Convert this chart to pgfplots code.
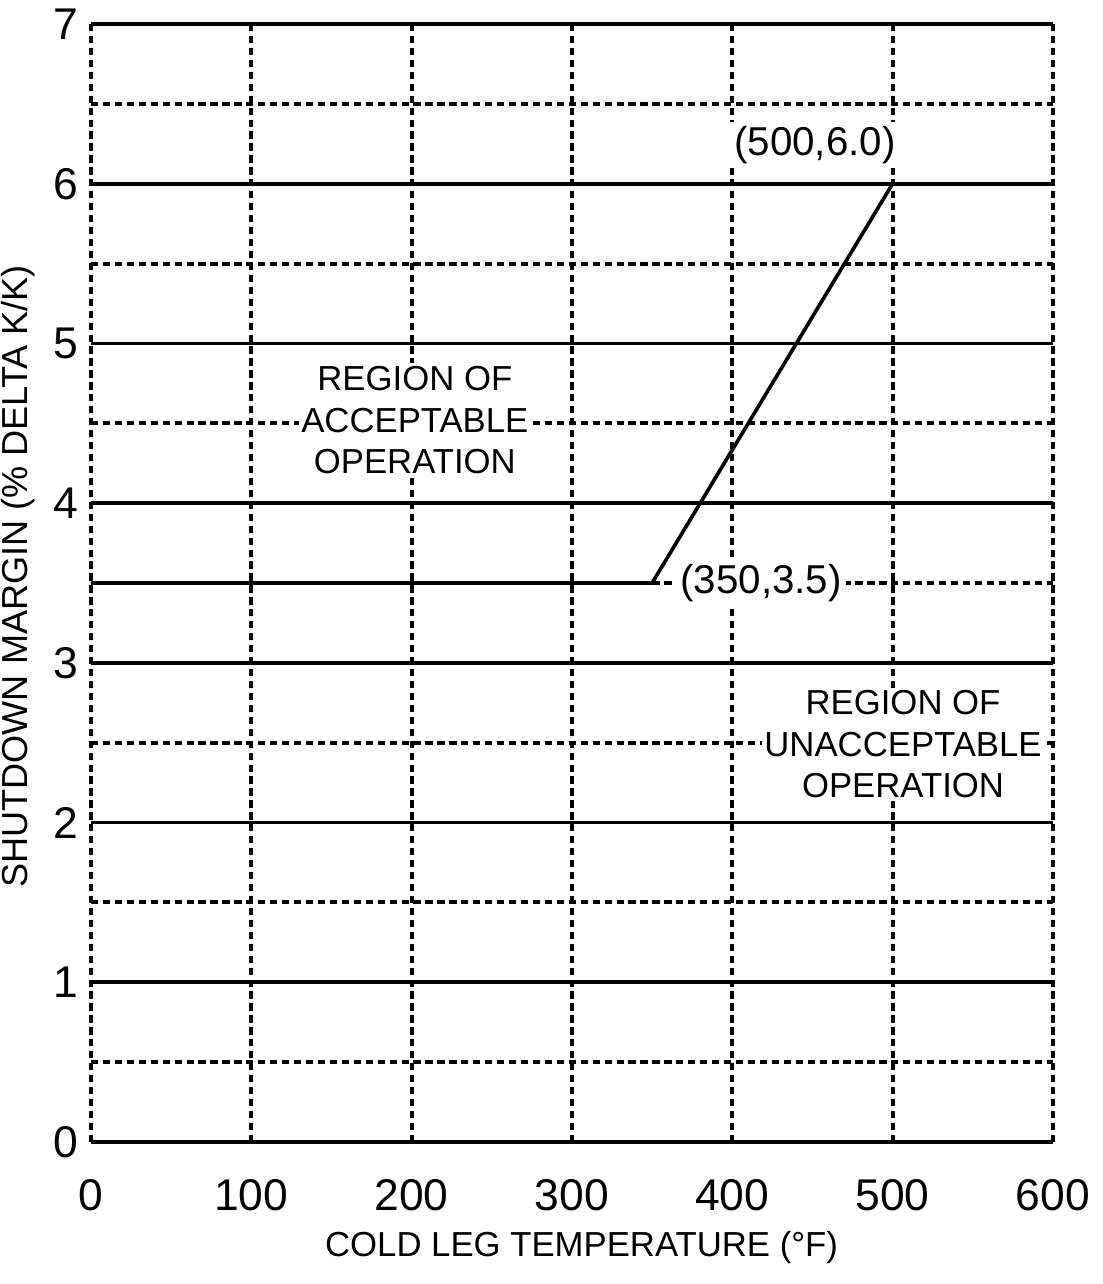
\documentclass[border=0pt]{standalone}
\usepackage{fontspec}
\setmainfont{Liberation Sans}
\usepackage{pgfplots}
\pgfplotsset{compat=1.18}
\begin{document}
\begin{tikzpicture}[x=1pt,y=1pt]
\begin{axis}[
  scale only axis,
  width=346.3pt, height=402.5pt,
  xmin=0, xmax=600, ymin=0, ymax=7,
  xtick={0,100,...,600},
  ytick={0,1,...,7},
  minor ytick={0.5,1.5,...,6.5},
  major tick length=0pt, minor tick length=0pt,
  axis line style={draw=none},
  xmajorgrids, ymajorgrids, yminorgrids,
  major x grid style={black, line width=1.4pt, dash pattern=on 2.6pt off 1.7pt},
  major y grid style={black, line width=1.3pt, solid},
  minor y grid style={black, line width=1.4pt, dash pattern=on 2.6pt off 1.7pt},
  /pgf/number format/assume math mode=true,
  ticklabel style={font=\fontsize{16}{18}\selectfont},
  xticklabel style={yshift=-10pt},
  yticklabel style={xshift=-1pt},
  xlabel={COLD LEG TEMPERATURE (\textdegree F)},
  ylabel={SHUTDOWN MARGIN (\% DELTA K/K)},
  every axis x label/.style={at={(axis description cs:0.51,-0.094)}, anchor=center, font=\fontsize{12.5}{14}\selectfont},
  every axis y label/.style={at={(axis description cs:-0.076,0.506)}, rotate=90, anchor=center, font=\fontsize{13}{15}\selectfont},
  clip=false,
]
\addplot[black, line width=1.3pt, solid] coordinates {(0,3.5) (350,3.5) (500,6.0)};
\node[font=\fontsize{12.5}{15}\selectfont, align=center, fill=white, inner sep=1pt] at (axis cs:202,4.52) {REGION OF\\ACCEPTABLE\\OPERATION};
\node[font=\fontsize{12.5}{15}\selectfont, align=center, fill=white, inner sep=1pt] at (axis cs:506.5,2.49) {REGION OF\\UNACCEPTABLE\\OPERATION};
\node[font=\fontsize{14.5}{16}\selectfont, fill=white, inner sep=1.5pt] at (axis cs:451.6,6.24) {(500,6.0)};
\node[font=\fontsize{14.5}{16}\selectfont, fill=white, inner sep=1.5pt] at (axis cs:418,3.5) {(350,3.5)};
\end{axis}
\path (current axis.south west) ++(-91*0.36pt,-142*0.36pt) coordinate (bl);
\path (current axis.north east) ++(50*0.36pt,24*0.36pt) coordinate (tr);
\pgfresetboundingbox
\useasboundingbox (bl) rectangle (tr);
\end{tikzpicture}
\end{document}
